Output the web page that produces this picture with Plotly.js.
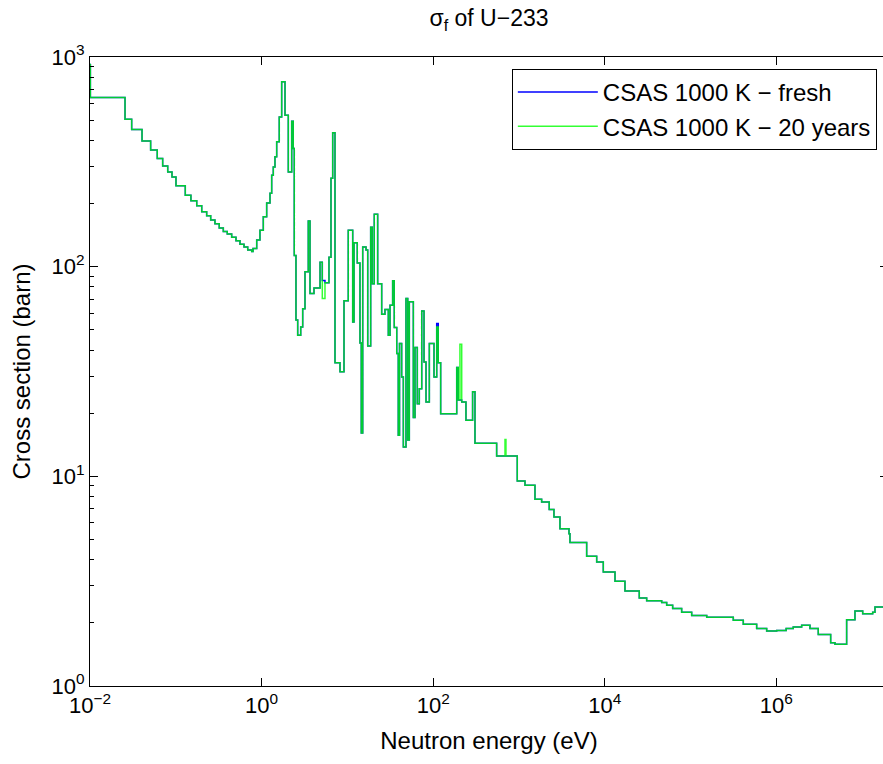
<!DOCTYPE html>
<html>
<head>
<meta charset="utf-8">
<script src="https://cdn.plot.ly/plotly-3.0.1.min.js"></script>
<style>
html,body{margin:0;padding:0;overflow:hidden;background:#fff;}
#chart{width:890px;height:764px;}
</style>
</head>
<body>
<div id="chart"></div>
<script>
// Energy bin lower edges (eV)
var energy = [0.001,0.0101,0.0256,0.0306,0.0404,0.0509,0.0608,0.0703,0.0805,0.0903,
  0.1005,0.129,0.150,0.1754,0.2005,0.229,0.255,0.286,0.321,0.358,
  0.398,0.448,0.503,0.560,0.624,0.689,0.767,0.795,0.877,0.957,
  1.047,1.146,1.253,1.311,1.369,1.432,1.499,1.607,1.714,1.874,
  2.048,2.243,2.340,2.404,2.516,2.634,2.856,3.013,3.205,3.502,
  3.666,4.08,4.80,5.10,5.48,6.10,6.44,6.74,7.17,8.20,
  9.13,10.24,11.53,11.94,13.04,14.02,14.52,15.08,16.48,17.25,
  18.68,19.51,20.57,22.53,25.1,27.4,30.0,31.4,33.7,35.2,
  37.6,39.2,40.5,42.9,44.9,48.2,50.5,52.7,58.7,61.4,
  65.3,68.9,73.5,78.2,82.5,90.2,102.2,109.9,114.6,122.2,
  188,196,205,215,241,288,307,549,687,705,
  955,1175,1536,1837,2252,2556,3003,3827,3928,6148,
  8045,9610,13160,17190,25240,30780,46030,52650,61830,78700,
  103000,154200,314800,411600,589100,770600,1.008e6,1.3e6,1.573e6,1.971e6,
  2.464e6,3.079e6,4.293e6,4.820e6,6.59e6,8.24e6,1.014e7,1.326e7,1.41e7,1.8e7,
  2e7];

// Fission cross section, 20 years burnup (barn)
var sigma20y = [920,641,505,451,398,360,328,302,283,268,
  243,219,206,195,183,175,167,160,153,147,
  143,138,133,128,124,120,118,122,134,149,
  173,201,224,273,299,334,394,518,762,528,
  283,494,366,113,55.6,47.1,51.6,63,94.5,165,
  74.5,79.2,105,70.5,83.7,111,264,435,34.8,31.5,
  68.7,149,54.5,130,104,43.3,16.1,124,120,41.9,
  154,83,178,83,59.3,62.5,47.1,65.5,85.6,51.3,
  38.5,15.7,43,29.8,13.8,70.5,14.9,68,19.1,41.2,
  22.2,26.2,61.5,35.1,22.6,43,29.8,51.6,34.8,19.9,
  33,23.1,42.7,22.6,18.5,25.3,14.4,12.5,15,12.5,
  9.5,9.07,7.78,7.55,6.94,6.40,5.63,5.33,4.83,4.16,
  3.90,3.50,3.16,2.84,2.63,2.55,2.50,2.43,2.34,2.25,
  2.17,2.13,2.06,1.97,1.88,1.83,1.84,1.88,1.91,1.95,
  1.88,1.76,1.61,1.58,2.07,2.28,2.21,2.25,2.38,2.35,
  2.35];

// Fission cross section, fresh fuel (barn)
var sigmaFresh = [920,641,505,451,398,360,328,302,283,268,
  243,219,206,195,183,175,167,160,153,147,
  143,138,133,128,124,120,118,122,134,149,
  173,201,224,273,299,334,394,518,762,528,
  283,494,366,113,55.6,47.1,51.6,63,94.5,165,
  74.5,79.2,105,86,83.7,111,264,435,34.8,31.5,
  68.7,149,54.5,130,104,43.3,16.1,124,120,41.9,
  154,83,178,83,59.3,62.5,47.1,65.5,85.6,51.3,
  38.5,15.7,43,29.8,13.8,70.5,14.9,68,19.1,41.2,
  22.2,26.2,61.5,35.1,22.6,43,29.8,53.5,34.8,19.9,
  33,23.1,23.1,22.6,18.5,25.3,14.4,12.5,12.5,12.5,
  9.5,9.07,7.78,7.55,6.94,6.40,5.63,5.33,4.83,4.16,
  3.90,3.50,3.16,2.84,2.63,2.55,2.50,2.43,2.34,2.25,
  2.17,2.13,2.06,1.97,1.88,1.83,1.84,1.88,1.91,1.95,
  1.88,1.76,1.61,1.58,2.07,2.28,2.21,2.25,2.38,2.35,
  2.35];

var seriesNames = ['CSAS 1000 K \u2212 fresh', 'CSAS 1000 K \u2212 20 years'];
var xTickVals = [0.01, 1, 100, 1e4, 1e6];
var xTickText = ['10<sup>\u22122</sup>','10<sup>0</sup>','10<sup>2</sup>','10<sup>4</sup>','10<sup>6</sup>'];
var yTickVals = [1, 10, 100, 1000];
var yTickText = ['10<sup>0</sup>','10<sup>1</sup>','10<sup>2</sup>','10<sup>3</sup>'];

var yMinor = [];
[1,10,100].forEach(function(d){ for (var k=2;k<=9;k++) yMinor.push(k*d); });

var FONT = 'Liberation Sans, Arial, Helvetica, sans-serif';

var traces = [
  {x: energy, y: sigmaFresh, name: seriesNames[0], type: 'scatter', mode: 'lines',
   line: {shape: 'hv', color: '#0000ff', width: 1.5}},
  {x: energy, y: sigma20y, name: seriesNames[1], type: 'scatter', mode: 'lines',
   opacity: 0.8,
   line: {shape: 'hv', color: '#00ff00', width: 1.5}}
];

var layout = {
  width: 890, height: 764,
  margin: {l: 90, r: 2, t: 57, b: 78},
  paper_bgcolor: '#fff', plot_bgcolor: '#fff',
  font: {family: FONT, color: '#000', size: 22},
  title: {text: '\u03c3<sub>f</sub> of U\u2212233', font: {family: FONT, size: 23, color: '#000'},
          x: 0.5, xref: 'paper', xanchor: 'center', y: 0.976, yref: 'container', yanchor: 'middle'},
  showlegend: true,
  legend: {x: 0.986, xanchor: 'right', y: 0.981, yanchor: 'top',
           bordercolor: '#000', borderwidth: 1, bgcolor: '#fff',
           font: {family: FONT, size: 24, color: '#000'}, itemwidth: 80,
           tracegroupgap: 0},
  xaxis: {type: 'log', range: [-2, Math.log10(2e7)], tickmode: 'array',
          tickvals: xTickVals, ticktext: xTickText, ticks: 'inside', ticklen: 8,
          tickcolor: '#000', showline: true, linecolor: '#000', linewidth: 1,
          mirror: 'ticks', showgrid: false, zeroline: false,
          tickfont: {family: FONT, size: 22, color: '#000'},
          title: {text: 'Neutron energy (eV)', font: {family: FONT, size: 24, color: '#000'}, standoff: 14}},
  yaxis: {type: 'log', range: [0, 3], tickmode: 'array',
          tickvals: yTickVals, ticktext: yTickText, ticks: 'inside', ticklen: 8,
          tickcolor: '#000', showline: true, linecolor: '#000', linewidth: 1,
          mirror: 'ticks', showgrid: false, zeroline: false,
          minor: {tickmode: 'array', tickvals: yMinor, ticks: 'inside', ticklen: 4, tickcolor: '#000'},
          tickfont: {family: FONT, size: 22, color: '#000'},
          title: {text: 'Cross section (barn)', font: {family: FONT, size: 24, color: '#000'}, standoff: 14}}
};

Plotly.newPlot('chart', traces, layout, {displayModeBar: false, staticPlot: true});
</script>
</body>
</html>
